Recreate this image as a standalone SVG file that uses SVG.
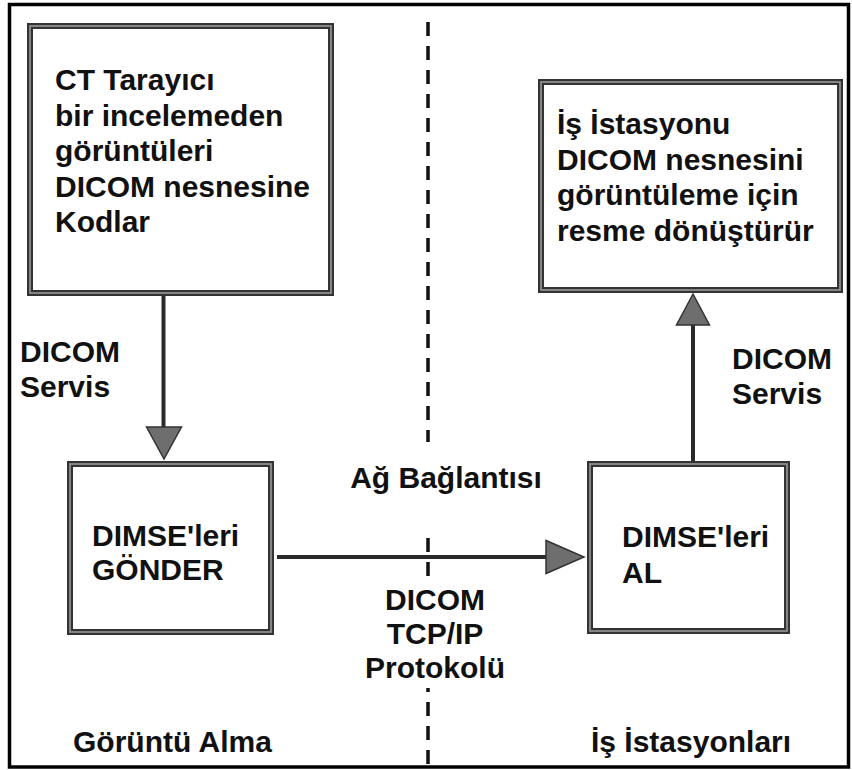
<svg xmlns="http://www.w3.org/2000/svg" width="852" height="770" viewBox="0 0 852 770">
  <defs>
    <style>
      text { font-family: "Liberation Sans", Arial, "DejaVu Sans", sans-serif; font-size: 30px; font-weight: bold; fill: #111; }
      .box-outer { fill: #fff; stroke: #333; stroke-width: 6; }
      .box-inner { fill: none; stroke: #999; stroke-width: 1.6; }
      .wire { stroke: #2a2a2a; stroke-width: 4; fill: none; }
      .head { fill: #6e6e6e; stroke: #333; stroke-width: 1.5; stroke-linejoin: miter; }
      .divider { stroke: #111; stroke-width: 3.5; stroke-dasharray: 14 10; fill: none; }
      .mid { text-anchor: middle; }
    </style>
  </defs>

  <rect width="852" height="770" fill="#fff"/>
  <!-- outer frame -->
  <rect x="9.5" y="4.5" width="839" height="762.5" fill="none" stroke="#000" stroke-width="3.5"/>

  <!-- network boundary (dashed) -->
  <g id="divider">
    <line class="divider" x1="428" y1="22" x2="428" y2="442"/>
    <line class="divider" x1="428" y1="538" x2="428" y2="576"/>
    <line class="divider" x1="428" y1="688" x2="428" y2="766" stroke-dashoffset="10"/>
  </g>

  <!-- connectors -->
  <g id="connectors">
    <line class="wire" x1="163.5" y1="296" x2="163.5" y2="428"/>
    <polygon class="head" points="146.5,427 181.5,427 164,459"/>

    <line class="wire" x1="277" y1="557" x2="546" y2="557"/>
    <polygon class="head" points="546,540.5 546,573.5 584,557"/>

    <line class="wire" x1="693" y1="461" x2="693" y2="325"/>
    <polygon class="head" points="676.5,325 709.5,325 693,294"/>
  </g>

  <g id="scanner">
    <rect class="box-outer" x="30" y="26" width="301" height="267"/>
    <rect class="box-inner" x="30" y="26" width="301" height="267"/>
    <text x="55" y="90">CT Tarayıcı</text>
    <text x="55" y="125.5">bir incelemeden</text>
    <text x="55" y="161">görüntüleri</text>
    <text x="55" y="196.5">DICOM nesnesine</text>
    <text x="55" y="232">Kodlar</text>
  </g>

  <g id="workstation">
    <rect class="box-outer" x="541" y="82" width="299" height="208"/>
    <rect class="box-inner" x="541" y="82" width="299" height="208"/>
    <text x="557" y="134">İş İstasyonu</text>
    <text x="557" y="169.5">DICOM nesnesini</text>
    <text x="557" y="205">görüntüleme için</text>
    <text x="557" y="240.5">resme dönüştürür</text>
  </g>

  <g id="send">
    <rect class="box-outer" x="70" y="464" width="201" height="168"/>
    <rect class="box-inner" x="70" y="464" width="201" height="168"/>
    <text x="92" y="546">DIMSE'leri</text>
    <text x="92" y="580">GÖNDER</text>
  </g>

  <g id="receive">
    <rect class="box-outer" x="590" y="464" width="197" height="167"/>
    <rect class="box-inner" x="590" y="464" width="197" height="167"/>
    <text x="622" y="547">DIMSE'leri</text>
    <text x="622" y="583">AL</text>
  </g>

  <g id="labels">
    <text x="20" y="362">DICOM</text>
    <text x="20" y="397">Servis</text>
    <text x="732" y="369">DICOM</text>
    <text x="732" y="404">Servis</text>
    <text class="mid" x="446" y="488">Ağ Bağlantısı</text>
    <text class="mid" x="435" y="610">DICOM</text>
    <text class="mid" x="435" y="644">TCP/IP</text>
    <text class="mid" x="435" y="678">Protokolü</text>
    <text x="73" y="752">Görüntü Alma</text>
    <text x="591" y="752">İş İstasyonları</text>
  </g>
</svg>
